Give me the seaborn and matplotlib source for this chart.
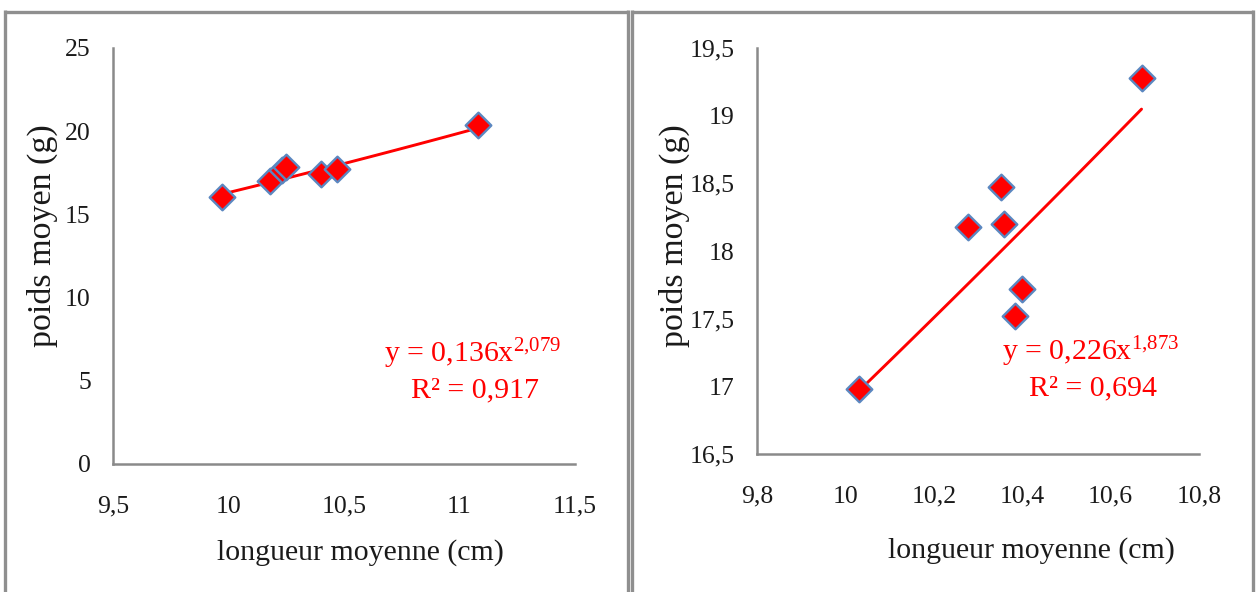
import numpy as np
import pandas as pd
import matplotlib
matplotlib.use("Agg")
import matplotlib.pyplot as plt
from matplotlib.lines import Line2D
import seaborn as sns

# ---- data ----
left_length = [9.97, 10.18, 10.23, 10.25, 10.40, 10.47, 11.08]
left_weight = [16.05, 17.00, 17.65, 17.85, 17.45, 17.70, 20.40]
left_coef = (0.136, 2.079)
left_r2 = "0,917"
left_xticks = [9.5, 10, 10.5, 11, 11.5]
left_yticks = [0, 5, 10, 15, 20, 25]

right_length = [10.03, 10.277, 10.352, 10.359, 10.384, 10.40, 10.67]
right_weight = [16.98, 18.18, 18.475, 18.20, 17.52, 17.72, 19.28]
right_coef = (0.226, 1.873)
right_r2 = "0,694"
right_xticks = [9.8, 10.0, 10.2, 10.4, 10.6, 10.8]
right_yticks = [16.5, 17, 17.5, 18, 18.5, 19, 19.5]

xlabel = "longueur moyenne (cm)"
ylabel = "poids moyen (g)"

sns.set_theme(style="white")
plt.rcParams['font.family'] = ['Liberation Serif', 'DejaVu Serif']
plt.rcParams['mathtext.default'] = 'regular'

W, H = 1256, 592
fig = plt.figure(figsize=(W / 100, H / 100), dpi=100)
fig.patch.set_facecolor("white")

def fx(px):
    return px / W

def fy(py):
    return 1 - py / H

def fmt(v):
    return ("%g" % v).replace(".", ",")

def panel(rect, xs, ys, coef, r2, xticks, yticks, eq_xy, xlab_xy, ylab_xy):
    x0, y0, x1, y1 = rect
    ax = fig.add_axes([fx(x0), fy(y1), fx(x1) - fx(x0), fy(y0) - fy(y1)])
    df = pd.DataFrame({"x": xs, "y": ys})
    a, b = coef
    xl = np.linspace(min(xs), max(xs), 100)
    line_df = pd.DataFrame({"x": xl, "y": a * xl ** b})
    sns.lineplot(data=line_df, x="x", y="y", ax=ax, color="#ff0000", lw=2.1, zorder=2)
    sns.scatterplot(data=df, x="x", y="y", ax=ax, marker="D", s=170,
                    color="#ff0000", edgecolor="#5b87c0", linewidth=1.7, zorder=3)
    ax.set_xlim(xticks[0], xticks[-1])
    ax.set_ylim(yticks[0], yticks[-1])
    ax.set_xticks(xticks)
    ax.set_yticks(yticks)
    ax.set_xticklabels([fmt(t) for t in xticks])
    ax.set_yticklabels([fmt(t) for t in yticks])
    for s in ["top", "right"]:
        ax.spines[s].set_visible(False)
    for s in ["left", "bottom"]:
        ax.spines[s].set_color("#8a8a8a")
        ax.spines[s].set_linewidth(1.8)
    ax.tick_params(axis="both", direction="out", length=6, width=1.5,
                   color="#8a8a8a", labelsize=18.5, labelcolor="#1a1a1a")
    ax.tick_params(axis="x", pad=17)
    ax.tick_params(axis="y", pad=10)
    ax.set_xlabel("")
    ax.set_ylabel("")
    ax.set_facecolor("white")
    fig.text(fx(xlab_xy[0]), fy(xlab_xy[1]), xlabel, ha="center", va="center",
             fontsize=21.5, color="#1a1a1a")
    fig.text(fx(ylab_xy[0]), fy(ylab_xy[1]), ylabel, ha="center", va="center",
             rotation=90, fontsize=24.5, color="#1a1a1a")
    ex, ey = eq_xy
    bs = fmt(b).replace(",", "{,}")
    fig.text(fx(ex), fy(ey), "y = %sx$^{%s}$" % (fmt(a), bs), ha="center",
             va="center", fontsize=21.5, color="#ff0000")
    fig.text(fx(ex + 2), fy(ey + 36), "R² = %s" % r2, ha="center",
             va="center", fontsize=21.5, color="#ff0000")
    return ax

panel((113, 48, 575, 464), left_length, left_weight, left_coef, left_r2,
      left_xticks, left_yticks, (473, 354), (360, 553), (42, 236))
panel((757, 48, 1199, 454), right_length, right_weight, right_coef, right_r2,
      right_xticks, right_yticks, (1091, 352), (1031, 551), (674, 236))

# chart-area frames
frame_kw = dict(color="#8f8f8f", lw=2.4, transform=fig.transFigure, solid_capstyle="butt")
for xa, xb in [(5, 627.5), (631.5, 1253)]:
    fig.add_artist(Line2D([fx(xa), fx(xb)], [fy(11.5), fy(11.5)], **frame_kw))
    fig.add_artist(Line2D([fx(xa), fx(xa)], [fy(10.3), fy(600)], **frame_kw))
    fig.add_artist(Line2D([fx(xb), fx(xb)], [fy(10.3), fy(600)], **frame_kw))

fig.savefig("out.png", dpi=100, facecolor="white")
